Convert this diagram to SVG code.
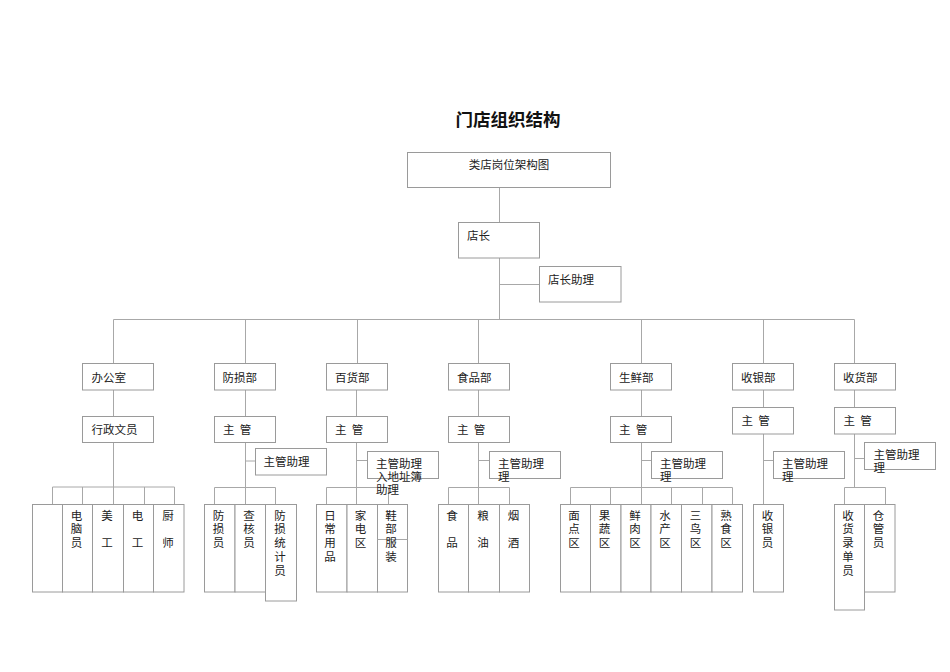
<svg xmlns="http://www.w3.org/2000/svg" width="950" height="672" viewBox="0 0 950 672">
<style>
.bx{fill:#fff;stroke:#9a9a9a;stroke-width:1}
.ln{fill:none;stroke:#a8a8a8;stroke-width:1}
.t{font-family:"Noto Sans CJK SC","Noto Sans",sans-serif;font-size:11.5px;fill:#222;dominant-baseline:central}
.vt{font-family:"Noto Sans CJK SC","Noto Sans",sans-serif;font-size:11.5px;fill:#222;writing-mode:vertical-rl;letter-spacing:2.3px}
.title{font-family:"Noto Sans CJK SC","Noto Sans",sans-serif;font-size:17.5px;font-weight:bold;fill:#111;text-anchor:middle;dominant-baseline:central}
</style>
<rect width="950" height="672" fill="#fff"/>
<text class="title" x="508" y="118">门店组织结构</text>

<g id="connectors">
<path class="ln" d="M499.5,187 V222 M499.5,258 V319.5 M499.5,284.5 H539 M113.5,319.5 H854.5 M113.5,319.5 V363 M245.5,319.5 V363 M357.5,319.5 V363 M478.5,319.5 V363 M641.5,319.5 V363 M763.5,319.5 V363 M854.5,319.5 V363"/>
<path class="ln" d="M113.5,390 V416 M113.5,442 V487 M52.5,487 H174.5 M52.5,487 V504 M82.5,487 V504 M113.5,487 V504 M144.5,487 V504 M174.5,487 V504"/>
<path class="ln" d="M245.5,390 V416 M245.5,442 V504 M245.5,461 H255 M214.5,487.5 H275.5 M214.5,487.5 V504 M275.5,487.5 V504"/>
<path class="ln" d="M356.5,390 V416 M356.5,442 V504 M356.5,460.5 H367 M326.5,487.5 H388.5 M326.5,487.5 V504 M388.5,487.5 V504"/>
<path class="ln" d="M478.5,390 V416 M478.5,442 V504 M478.5,460.5 H489 M448.5,487.5 H509.5 M448.5,487.5 V504 M509.5,487.5 V504"/>
<path class="ln" d="M641.5,390 V416 M641.5,442 V504 M641.5,460.5 H652 M570.5,487.5 H732.5 M570.5,487.5 V504 M610.5,487.5 V504 M671.5,487.5 V504 M702.5,487.5 V504 M732.5,487.5 V504"/>
<path class="ln" d="M763.5,390 V407 M763.5,434 V504 M763.5,460.5 H773"/>
<path class="ln" d="M854.5,390 V407 M854.5,434 V487.5 M854.5,458.5 H864 M844.5,487.5 H885.5 M844.5,487.5 V504 M885.5,487.5 V504"/>
</g>

<g id="n-top"><rect class="bx" x="407.5" y="152.5" width="203" height="35"/><text class="t" x="509" y="163.5" text-anchor="middle">类店岗位架构图</text></g>
<g id="n-manager"><rect class="bx" x="458.5" y="222.5" width="81" height="35.5"/><text class="t" x="467" y="235">店长</text></g>
<g id="n-assistant"><rect class="bx" x="539.5" y="266.5" width="81.5" height="35.5"/><text class="t" x="548" y="278.5">店长助理</text></g>

<g id="n-office"><rect class="bx" x="82.5" y="363.5" width="71" height="26.5"/><text class="t" x="91.5" y="377">办公室</text></g>
<g id="n-loss"><rect class="bx" x="214.5" y="363.5" width="61" height="26.5"/><text class="t" x="222.5" y="377">防损部</text></g>
<g id="n-gm"><rect class="bx" x="326.5" y="363.5" width="61" height="26.5"/><text class="t" x="335" y="377">百货部</text></g>
<g id="n-food"><rect class="bx" x="448.5" y="363.5" width="61" height="26.5"/><text class="t" x="457" y="377">食品部</text></g>
<g id="n-fresh"><rect class="bx" x="610.5" y="363.5" width="61" height="26.5"/><text class="t" x="619" y="377">生鲜部</text></g>
<g id="n-cash"><rect class="bx" x="732.5" y="363.5" width="61" height="26.5"/><text class="t" x="741" y="377">收银部</text></g>
<g id="n-recv"><rect class="bx" x="834.5" y="363.5" width="61" height="26.5"/><text class="t" x="843" y="377">收货部</text></g>

<g id="n-admin"><rect class="bx" x="82.5" y="416.5" width="71" height="26"/><text class="t" x="91.5" y="429">行政文员</text></g>
<g id="n-loss-sup"><rect class="bx" x="214.5" y="416.5" width="61" height="26"/><text class="t" x="223" y="429" xml:space="preserve">主  管</text></g>
<g id="n-gm-sup"><rect class="bx" x="326.5" y="416.5" width="61" height="26"/><text class="t" x="335" y="429" xml:space="preserve">主  管</text></g>
<g id="n-food-sup"><rect class="bx" x="448.5" y="416.5" width="61" height="26"/><text class="t" x="457" y="429" xml:space="preserve">主  管</text></g>
<g id="n-fresh-sup"><rect class="bx" x="610.5" y="416.5" width="61" height="26"/><text class="t" x="619" y="429" xml:space="preserve">主  管</text></g>
<g id="n-cash-sup"><rect class="bx" x="732.5" y="407.5" width="61" height="26.5"/><text class="t" x="741.5" y="419.5" xml:space="preserve">主  管</text></g>
<g id="n-recv-sup"><rect class="bx" x="834.5" y="407.5" width="61" height="26.5"/><text class="t" x="843.5" y="419.5" xml:space="preserve">主  管</text></g>

<g id="n-loss-asst"><rect class="bx" x="255.5" y="448.5" width="71" height="26.5"/><text class="t" x="263.5" y="461">主管助理</text></g>
<g id="n-gm-asst"><rect class="bx" x="367.5" y="451.5" width="71" height="27"/><text class="t"><tspan x="376" y="463">主管助理</tspan><tspan x="376" y="476">入地址簿</tspan><tspan x="376" y="489">助理</tspan></text></g>
<g id="n-food-asst"><rect class="bx" x="489.5" y="451.5" width="71" height="27"/><text class="t"><tspan x="498" y="463">主管助理</tspan><tspan x="498" y="475.5">理</tspan></text></g>
<g id="n-fresh-asst"><rect class="bx" x="651.5" y="451.5" width="71" height="27"/><text class="t"><tspan x="660" y="463">主管助理</tspan><tspan x="660" y="475.5">理</tspan></text></g>
<g id="n-cash-asst"><rect class="bx" x="773.5" y="451.5" width="71" height="27"/><text class="t"><tspan x="782" y="463">主管助理</tspan><tspan x="782" y="475.5">理</tspan></text></g>
<g id="n-recv-asst"><rect class="bx" x="864.5" y="442.5" width="71" height="27"/><text class="t"><tspan x="873.5" y="454">主管助理</tspan><tspan x="873.5" y="466.5">理</tspan></text></g>

<g id="n-off-blank"><rect class="bx" x="32.5" y="504.5" width="30" height="87.5"/></g>
<g id="n-off-pc"><rect class="bx" x="62.5" y="504.5" width="30" height="87.5"/><text class="vt" x="76.5" y="509.5">电脑员</text></g>
<g id="n-off-art"><rect class="bx" x="92.5" y="504.5" width="31" height="87.5"/><text class="vt" x="107" y="509.5">美　工</text></g>
<g id="n-off-elec"><rect class="bx" x="123.5" y="504.5" width="30" height="87.5"/><text class="vt" x="137.5" y="509.5">电　工</text></g>
<g id="n-off-chef"><rect class="bx" x="153.5" y="504.5" width="30.5" height="87.5"/><text class="vt" x="168" y="509.5">厨　师</text></g>

<g id="n-loss-1"><rect class="bx" x="204.5" y="504.5" width="30.5" height="87.5"/><text class="vt" x="218.5" y="509.5">防损员</text></g>
<g id="n-loss-2"><rect class="bx" x="235" y="504.5" width="30.5" height="87.5"/><text class="vt" x="249" y="509.5">查核员</text></g>
<g id="n-loss-3"><rect class="bx" x="265.5" y="504.5" width="31" height="96.5"/><text class="vt" x="280" y="509.5">防损统计员</text></g>

<g id="n-gm-1"><rect class="bx" x="316.5" y="504.5" width="30.5" height="87.5"/><text class="vt" x="330" y="509.5">日常用品</text></g>
<g id="n-gm-2"><rect class="bx" x="347" y="504.5" width="30.5" height="87.5"/><text class="vt" x="360.5" y="509.5">家电区</text></g>
<g id="n-gm-3"><rect class="bx" x="377.5" y="504.5" width="30" height="87.5"/><path class="ln" d="M377.5,539.5 H407.5"/><text class="vt" x="391" y="509.5">鞋部服装</text></g>

<g id="n-food-1"><rect class="bx" x="438.5" y="504.5" width="30" height="87.5"/><text class="vt" x="452" y="509.5">食　品</text></g>
<g id="n-food-2"><rect class="bx" x="468.5" y="504.5" width="31" height="87.5"/><text class="vt" x="483" y="509.5">粮　油</text></g>
<g id="n-food-3"><rect class="bx" x="499.5" y="504.5" width="30" height="87.5"/><text class="vt" x="513.5" y="509.5">烟　酒</text></g>

<g id="n-fr-1"><rect class="bx" x="560.5" y="504.5" width="30" height="87.5"/><text class="vt" x="574" y="509.5">面点区</text></g>
<g id="n-fr-2"><rect class="bx" x="590.5" y="504.5" width="30.5" height="87.5"/><text class="vt" x="604.5" y="509.5">果蔬区</text></g>
<g id="n-fr-3"><rect class="bx" x="621" y="504.5" width="30" height="87.5"/><text class="vt" x="635" y="509.5">鲜肉区</text></g>
<g id="n-fr-4"><rect class="bx" x="651" y="504.5" width="30.5" height="87.5"/><text class="vt" x="665" y="509.5">水产区</text></g>
<g id="n-fr-5"><rect class="bx" x="681.5" y="504.5" width="30.5" height="87.5"/><text class="vt" x="695.5" y="509.5">三鸟区</text></g>
<g id="n-fr-6"><rect class="bx" x="712" y="504.5" width="30.5" height="87.5"/><text class="vt" x="726" y="509.5">熟食区</text></g>

<g id="n-cash-1"><rect class="bx" x="753.5" y="504.5" width="30" height="87.5"/><text class="vt" x="767.5" y="509.5">收银员</text></g>

<g id="n-recv-1"><rect class="bx" x="834.5" y="504.5" width="30" height="105.5"/><text class="vt" x="848" y="509.5">收货录单员</text></g>
<g id="n-recv-2"><rect class="bx" x="864.5" y="504.5" width="30.5" height="87.5"/><text class="vt" x="878.5" y="509.5">仓管员</text></g>
</svg>
